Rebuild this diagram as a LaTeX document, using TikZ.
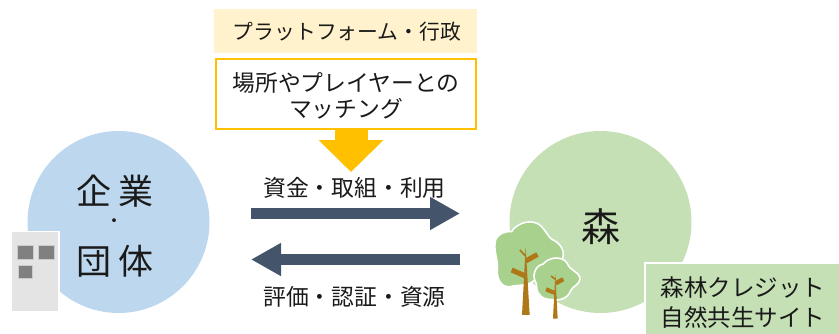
\documentclass[tikz,border=0pt]{standalone}
\usepackage{fontspec}
\setmainfont{Noto Sans CJK JP}
\usetikzlibrary{arrows.meta}
\definecolor{circblue}{HTML}{BDD7EE}
\definecolor{circgreen}{HTML}{C5E0B4}
\definecolor{treegreen}{HTML}{A9D18E}
\definecolor{trunk}{HTML}{AE7718}
\definecolor{gold}{HTML}{FFC000}
\definecolor{paleyellow}{HTML}{FFF2CC}
\definecolor{slate}{HTML}{44546A}
\definecolor{inkc}{HTML}{1A1A1A}
\newcommand{\fs}[1]{\fontsize{#1}{#1}\selectfont}
\tikzset{
  x=1pt,y=-1pt,
  txt/.style={inner sep=0pt,text=inkc,align=center,font=\fs{22.8}},
  bigtxt/.style={inner sep=0pt,text=inkc,font=\fs{35}},
  bigarrow/.style={draw=slate,line width=11pt,-{Triangle[length=30pt,width=31pt]}},
  goldarrow/.style={draw=gold,line width=33pt,-{Triangle[length=32pt,width=63pt]}},
  blob/.style={draw=white,line width=1.6pt,fill=treegreen},
}
\begin{document}
\begin{tikzpicture}
\useasboundingbox (0,0) rectangle (839,333);
% circles
\fill[circblue] (118.5,222) circle (91);
\fill[circgreen] (600.5,222) circle (91);
% top boxes
\node[fill=paleyellow,minimum width=263pt,minimum height=44pt,inner sep=0pt,outer sep=0pt,anchor=north west] (platform) at (214,9) {};
\node[inner sep=0pt,text=inkc,font=\fs{20.8}] (platformtxt) at (347,32) {プラットフォーム・行政};
\node[draw=gold,line width=2pt,fill=white,minimum width=260pt,minimum height=70pt,inner sep=0pt,outer sep=0pt,anchor=north west] (match) at (215.5,58.5) {};
\node[txt] (matcha) at (346,83) {場所やプレイヤーとの};
\node[txt] (matchb) at (346,109) {マッチング};
% gold arrow
\coordinate (goldstart) at (351,129.5);
\coordinate (goldend) at (351,172);
\draw[goldarrow] (goldstart) -- (goldend);
% horizontal arrows
\coordinate (rs) at (251,213.5);
\coordinate (re) at (460,213.5);
\coordinate (ls) at (460,259.5);
\coordinate (le) at (251,259.5);
\draw[bigarrow] (rs) -- (re);
\draw[bigarrow] (ls) -- (le);
\node[txt] (lab1) at (354.5,188) {資金・取組・利用};
\node[txt] (lab2) at (354.5,296.5) {評価・認証・資源};
% circle labels
\node[bigtxt] (kigyo) at (115,191) {企 業};
\node[inner sep=0pt,text=inkc,font=\fs{18}] (dot) at (114.5,223) {・};
\node[bigtxt] (dantai) at (115,261) {団 体};
\node[inner sep=0pt,text=inkc,font=\fs{39}] (mori) at (601,227) {森};
% building
\fill[fill=white] (10.5,230.5) rectangle (60,312.5);
\fill[fill=black!10.5] (12,232) rectangle (58,311);
\foreach \a/\b/\c/\d in {17/245/33/259,38/245/54/259,18/265/32/278}
  \draw[fill=black!50,draw=black!20,line width=.6pt] (\a,\b) rectangle (\c,\d);
% trees
\begin{scope}[shift={(480,200)},x=0.3333pt,y=-0.3333pt]
  \draw[blob] (45,130) .. controls (45,105) and (75,92) .. (95,95)
     .. controls (105,75) and (145,55) .. (175,72)
     .. controls (195,85) and (200,105) .. (215,118)
     .. controls (240,128) and (255,150) .. (248,175)
     .. controls (235,210) and (190,205) .. (165,240)
     .. controls (150,255) and (125,255) .. (100,258)
     .. controls (70,268) and (50,245) .. (52,210)
     .. controls (55,180) and (42,160) .. (45,130) -- cycle;
  \fill[trunk] (137,140) -- (149,345) -- (126,345) -- cycle;
  \fill[trunk] (98,203) -- (137,220) -- (131,234) -- (92,217) -- cycle;
  \fill[trunk] (136,175) -- (169,157) -- (176,170) -- (140,190) -- cycle;
  \fill[trunk] (121,148) -- (138,165) -- (136,171) -- (118,152) -- cycle;
  \draw[blob] (162,225) .. controls (165,205) and (175,195) .. (190,192)
     .. controls (205,172) and (245,165) .. (262,190)
     .. controls (268,212) and (300,215) .. (300,238)
     .. controls (298,255) and (278,258) .. (272,272)
     .. controls (265,295) and (235,305) .. (215,298)
     .. controls (190,300) and (170,285) .. (170,260)
     .. controls (170,245) and (160,240) .. (162,225) -- cycle;
  \fill[trunk] (226,222) -- (233,356) -- (219,356) -- cycle;
  \fill[trunk] (200,262) -- (228,274) -- (224,285) -- (196,274) -- cycle;
  \fill[trunk] (226,243) -- (247,232) -- (253,243) -- (230,256) -- cycle;
  \fill[trunk] (215,226) -- (228,237) -- (226,241) -- (212,230) -- cycle;
\end{scope}
% site box
\node[draw=white,line width=1.5pt,fill=circgreen,minimum width=196pt,minimum height=72pt,inner sep=0pt,outer sep=0pt,anchor=north west] (site) at (645,263) {};
\node[txt,font=\fs{23.5}] (sitea) at (743,288) {森林クレジット};
\node[txt,font=\fs{23.5}] (siteb) at (743,317) {自然共生サイト};
\end{tikzpicture}
\end{document}
